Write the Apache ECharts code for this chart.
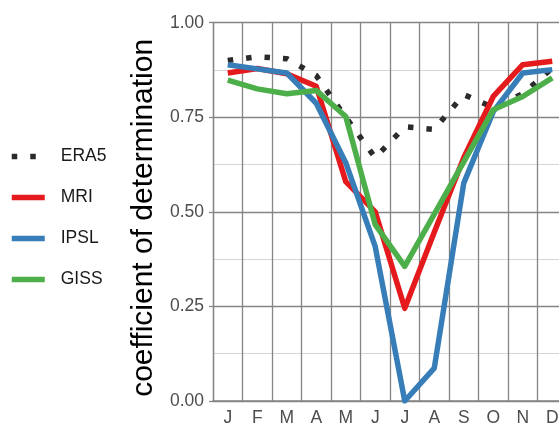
<!DOCTYPE html>
<html>
<head>
<meta charset="utf-8">
<script src="https://cdn.jsdelivr.net/npm/echarts@6/dist/echarts.min.js"></script>
<style>
  html, body { margin: 0; padding: 0; background: #fff; }
  #chart { width: 559px; height: 423px; }
</style>
</head>
<body>
<div id="chart"></div>
<script>
// Monthly coefficient of determination, reanalysis vs. three models
const months = ['J', 'F', 'M', 'A', 'M', 'J', 'J', 'A', 'S', 'O', 'N', 'D'];
const era5 = [0.900, 0.910, 0.905, 0.860, 0.750, 0.643, 0.725, 0.718, 0.810, 0.776, 0.812, 0.880];
const mri  = [0.867, 0.879, 0.865, 0.832, 0.580, 0.500, 0.245, 0.446, 0.643, 0.805, 0.889, 0.898];
const ipsl = [0.889, 0.878, 0.867, 0.787, 0.630, 0.408, 0.000, 0.087, 0.576, 0.765, 0.867, 0.876];
const giss = [0.848, 0.825, 0.812, 0.821, 0.752, 0.466, 0.356, 0.494, 0.632, 0.770, 0.805, 0.854];
const yTicks = [0, 0.25, 0.5, 0.75, 1];

const FONT = '"Liberation Sans", Arial, Helvetica, sans-serif';
const GRID_DARK = '#858585';
const GRID_LIGHT = '#d6d6d6';
const LINE_W = 5.5;

function lineSeries(name, data, color, dashed) {
  return {
    name: name,
    type: 'line',
    data: data,
    showSymbol: false,
    symbol: 'none',
    silent: true,
    animation: false,
    lineStyle: {
      color: color,
      width: LINE_W,
      type: dashed ? [5.5, 13] : 'solid',
      cap: 'butt',
      join: 'round'
    },
    itemStyle: { color: color }
  };
}

const chart = echarts.init(document.getElementById('chart'), null, { renderer: 'canvas' });
chart.setOption({
  animation: false,
  backgroundColor: '#ffffff',
  textStyle: { fontFamily: FONT },
  grid: {
    left: 213, top: 22.7, right: -8, bottom: 22,
    containLabel: false,
    outerBoundsMode: 'none'
  },
  legend: {
    orient: 'vertical',
    left: 4,
    top: 142.5,
    itemWidth: 33,
    itemHeight: 18,
    itemGap: 23,
    data: ['ERA5', 'MRI', 'IPSL', 'GISS'],
    itemStyle: { opacity: 0, borderWidth: 0 },
    lineStyle: { width: LINE_W },
    textStyle: {
      fontFamily: FONT,
      fontSize: 17.5,
      color: '#1a1a1a',
      padding: [0, 0, 0, 11]
    }
  },
  xAxis: {
    type: 'category',
    data: months,
    boundaryGap: true,
    axisLine: { show: true, lineStyle: { color: GRID_DARK, width: 1.5 } },
    axisTick: { show: false },
    axisLabel: {
      interval: 0,
      margin: 8,
      fontFamily: FONT,
      fontSize: 17.5,
      color: '#4d4d4d'
    },
    splitLine: { show: true, interval: 0, lineStyle: { color: GRID_DARK, width: 1.3 } }
  },
  yAxis: {
    type: 'value',
    min: yTicks[0],
    max: yTicks[yTicks.length - 1],
    interval: 0.25,
    name: 'coefficient of determination',
    nameLocation: 'middle',
    nameRotate: 90,
    nameGap: 54,
    nameTextStyle: {
      fontFamily: FONT,
      fontSize: 30,
      color: '#000000',
      padding: [0, 12, 0, 0]
    },
    axisLine: { show: true, lineStyle: { color: GRID_DARK, width: 1.3 } },
    axisTick: { show: true, length: 4, lineStyle: { color: GRID_DARK, width: 1.3 } },
    axisLabel: {
      margin: 9,
      fontFamily: FONT,
      fontSize: 17.5,
      color: '#4d4d4d',
      formatter: v => v.toFixed(2)
    },
    splitLine: { show: true, lineStyle: { color: GRID_DARK, width: 1.3 } },
    minorTick: { show: false, splitNumber: 2 },
    minorSplitLine: { show: true, lineStyle: { color: GRID_LIGHT, width: 1 } }
  },
  series: [
    lineSeries('ERA5', era5, '#2b2b2b', true),
    lineSeries('MRI', mri, '#e41a1c', false),
    lineSeries('IPSL', ipsl, '#377eb8', false),
    lineSeries('GISS', giss, '#4daf4a', false)
  ]
});
</script>
</body>
</html>
